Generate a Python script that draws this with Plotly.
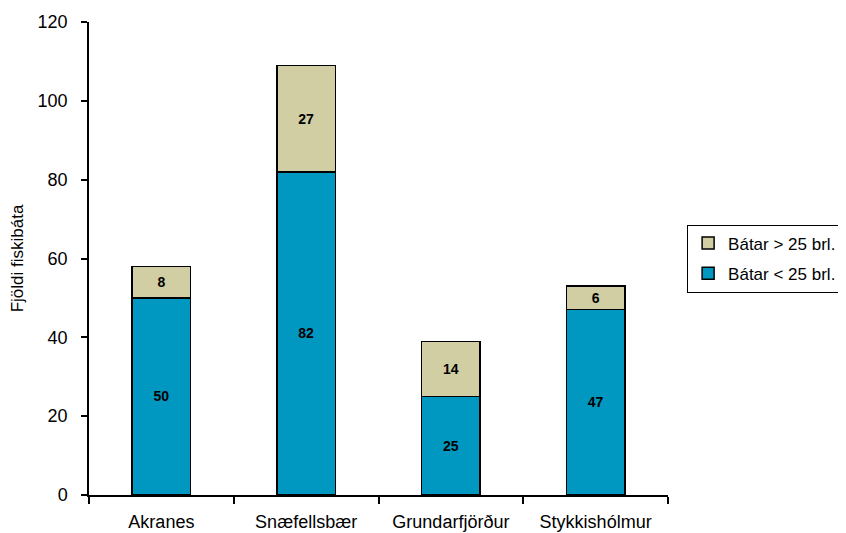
import plotly.graph_objects as go

categories = ["Akranes", "Snæfellsbær", "Grundarfjörður", "Stykkishólmur"]
small_boats = [50, 82, 25, 47]   # Bátar < 25 brl.
large_boats = [8, 27, 14, 6]     # Bátar > 25 brl.
y_ticks = [0, 20, 40, 60, 80, 100, 120]

font = "Liberation Sans, Arial, sans-serif"

fig = go.Figure()
fig.add_trace(go.Bar(
    x=categories, y=small_boats, name="Bátar < 25 brl.", legendgroup="a", legendrank=2,
    marker=dict(color="#0098C0", line=dict(color="black", width=1.5)),
    text=[str(v) for v in small_boats], textposition="inside",
    insidetextanchor="middle", textangle=0,
    textfont=dict(family=font, size=14, color="black", weight="bold"),
))
fig.add_trace(go.Bar(
    x=categories, y=large_boats, name="Bátar > 25 brl.", legendgroup="b", legendrank=1,
    marker=dict(color="#D0CEA2", line=dict(color="black", width=1.5)),
    text=[str(v) for v in large_boats], textposition="inside",
    insidetextanchor="middle", textangle=0,
    textfont=dict(family=font, size=14, color="black", weight="bold"),
))

fig.update_layout(
    barmode="stack",
    bargap=0.596,
    width=846, height=533,
    margin=dict(l=81, r=186, t=14, b=46),
    plot_bgcolor="white", paper_bgcolor="white",
    font=dict(family=font, size=18, color="black"),
    showlegend=True,
    legend=dict(
        x=1.033, y=0.5, xanchor="left", yanchor="middle",
        bordercolor="black", borderwidth=1,
        font=dict(family=font, size=17, color="black"),
        traceorder="grouped", tracegroupgap=5, itemwidth=30,
    ),
    uniformtext=dict(minsize=8, mode="show"),
)
fig.update_xaxes(
    automargin=False,
    showline=True, linecolor="black", linewidth=1.5,
    ticks="outside", ticklen=7, tickcolor="black", tickwidth=1.5,
    tickson="boundaries", showgrid=False, ticklabelstandoff=10,
    tickfont=dict(family=font, size=18, color="black"),
)
fig.update_yaxes(
    automargin=False,
    range=[0, 120], tickvals=y_ticks,
    showline=True, linecolor="black", linewidth=1.5,
    ticks="outside", ticklen=6, tickcolor="black", tickwidth=1.5,
    showgrid=False, zeroline=False, ticklabelstandoff=10,
    title=dict(text="Fjöldi fiskibáta", font=dict(family=font, size=17, color="black"), standoff=10),
    tickfont=dict(family=font, size=18, color="black"),
)

fig.write_html("out.html")
